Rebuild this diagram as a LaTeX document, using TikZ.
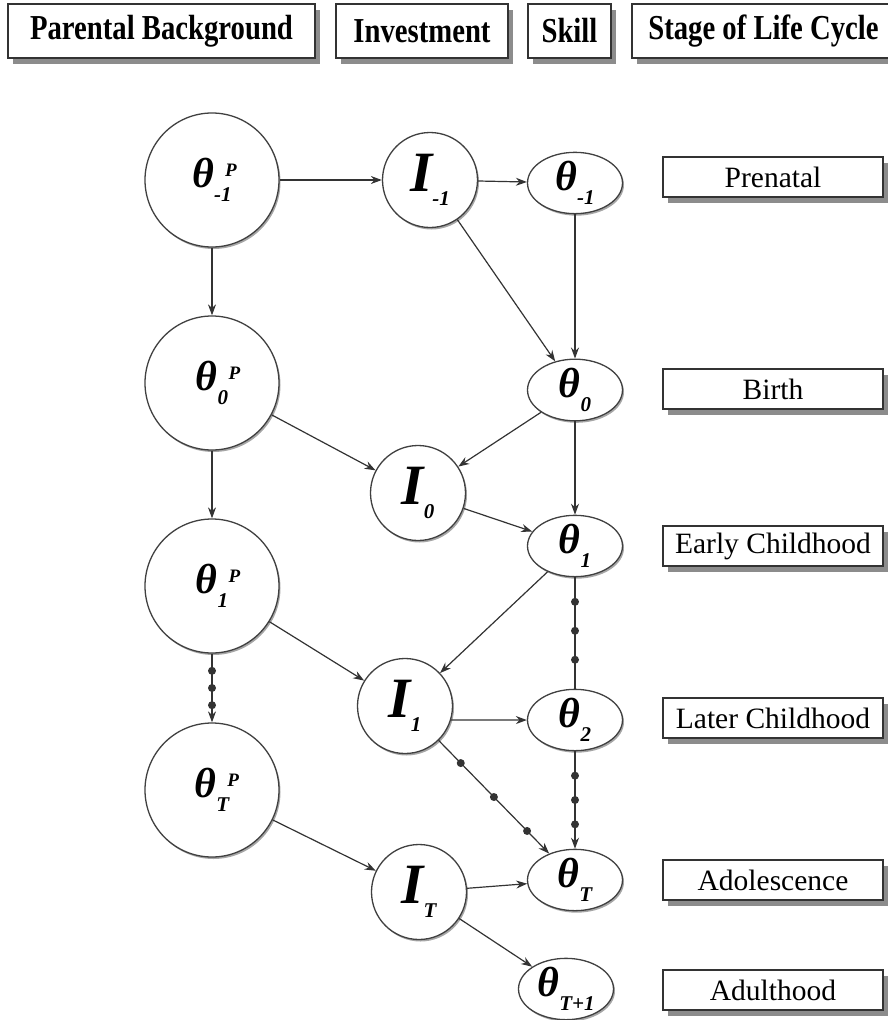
\documentclass[tikz,border=0pt]{standalone}
\usepackage{fontspec}
\setmainfont{Liberation Serif}
\usepackage{tikz}
\usetikzlibrary{shapes.geometric,shadows,arrows.meta}

% symbol with stacked sub- and superscript
\newcommand\symlbl[4]{{\fontsize{#1}{#1}\selectfont\bfseries\itshape #2}%
  \rlap{\hspace{11pt}\raisebox{11pt}{\fontsize{19}{19}\selectfont\bfseries\itshape #4}}%
  \raisebox{-14pt}{\fontsize{21}{21}\selectfont\bfseries\itshape #3}}
% narrow bold text of the column heads
\newcommand\headtxt[1]{\scalebox{.82}[1]{#1}}

\begin{document}
\begin{tikzpicture}[x=1pt,y=-1pt,
    every node/.style={inner sep=0pt},
    boxshadow/.style={drop shadow={shadow xshift=5pt,shadow yshift=-6pt,fill=black!45,opacity=1}},
    headbox/.style={draw=black!80,line width=1.4pt,fill=white,boxshadow,minimum height=54pt,
        font=\fontsize{35}{37}\selectfont\bfseries},
    stagebox/.style={draw=black!80,line width=1.2pt,fill=white,boxshadow,minimum width=220pt,
        minimum height=40pt,font=\fontsize{29.5}{31}\selectfont},
    circshadow/.style={drop shadow={shadow xshift=1.5pt,shadow yshift=-2pt,fill=black!50,opacity=.7}},
    parent/.style={circle,draw=black!75,line width=1.3pt,fill=white,circshadow,minimum size=134pt},
    invest/.style={circle,draw=black!75,line width=1.3pt,fill=white,circshadow,minimum size=95pt},
    skill/.style={ellipse,draw=black!75,line width=1.3pt,fill=white,circshadow,minimum width=95pt,
        minimum height=60pt},
    arr/.style={-{Stealth[length=11pt,width=8pt]},draw=black!80,line width=1.2pt},
    link/.style={draw=black!80,line width=1.2pt},
    dot/.style={circle,fill=black!80,minimum size=8pt}]

\useasboundingbox
    (0,0) rectangle (888,1020);

% column heads
\node[headbox,minimum width=307pt] (hpar)
    at (161.5,31) {\headtxt{Parental Background}};
\node[headbox,minimum width=172pt] (hinv)
    at (422,31) {\headtxt{Investment}};
\node[headbox,minimum width=83pt] (hskill)
    at (569.5,31) {\headtxt{Skill}};
\node[headbox,minimum width=263pt] (hstage)
    at (763.5,31) {\headtxt{Stage of Life Cycle}};

% parental background
\node[parent] (pm1)
    at (212,180) {\symlbl{42}{θ}{-1}{P}};
\node[parent] (p0)
    at (212,383) {\symlbl{42}{θ}{0}{P}};
\node[parent] (p1)
    at (212,586) {\symlbl{42}{θ}{1}{P}};
\node[parent] (pT)
    at (212,790) {\symlbl{42}{θ}{T}{P}};

% investment
\node[invest] (im1)
    at (430,180) {\symlbl{57}{I}{-1}{}};
\node[invest] (i0)
    at (418,493) {\symlbl{57}{I}{0}{}};
\node[invest] (i1)
    at (405,706) {\symlbl{57}{I}{1}{}};
\node[invest] (iT)
    at (419,892) {\symlbl{57}{I}{T}{}};

% skill
\node[skill] (sm1)
    at (575,183) {\symlbl{42}{θ}{-1}{}};
\node[skill] (s0)
    at (575,390) {\symlbl{42}{θ}{0}{}};
\node[skill] (s1)
    at (575,546) {\symlbl{42}{θ}{1}{}};
\node[skill] (s2)
    at (575,720) {\symlbl{42}{θ}{2}{}};
\node[skill] (sT)
    at (575,880) {\symlbl{42}{θ}{T}{}};
\node[skill] (sT1)
    at (566,989) {\symlbl{42}{θ}{T+1}{}};

% stage of life cycle
\node[stagebox] (prenatal)
    at (773,177) {Prenatal};
\node[stagebox] (birth)
    at (773,389) {Birth};
\node[stagebox] (early)
    at (773,546) {Early Childhood};
\node[stagebox] (later)
    at (773,718) {Later Childhood};
\node[stagebox] (adol)
    at (773,880) {Adolescence};
\node[stagebox] (adult)
    at (773,990) {Adulthood};

% links
\draw[arr] (pm1) -- (im1);
\draw[arr] (im1) -- (sm1);
\draw[arr] (pm1) -- (p0);
\draw[arr] (im1) -- (s0);
\draw[arr] (sm1) -- (s0);
\draw[arr] (s0) -- (i0);
\draw[arr] (p0) -- (i0);
\draw[arr] (p0) -- (p1);
\draw[arr] (s0) -- (s1);
\draw[arr] (i0) -- (s1);
\draw[arr] (s1) -- (i1);
\draw[arr] (p1) -- (i1);
\draw[arr] (p1) -- node[pos=.25,dot]{} node[pos=.5,dot]{} node[pos=.75,dot]{} (pT);
\draw[link] (s1) -- node[pos=.22,dot]{} node[pos=.48,dot]{} node[pos=.74,dot]{} (s2);
\draw[arr] (i1.-17) -- (s2);
\draw[arr] (i1) -- node[pos=.2,dot]{} node[pos=.5,dot]{} node[pos=.8,dot]{} (sT);
\draw[arr] (s2) -- node[pos=.25,dot]{} node[pos=.5,dot]{} node[pos=.75,dot]{} (sT);
\draw[arr] (pT) -- (iT);
\draw[arr] (iT) -- (sT);
\draw[arr] (iT) -- (sT1);
\end{tikzpicture}
\end{document}
